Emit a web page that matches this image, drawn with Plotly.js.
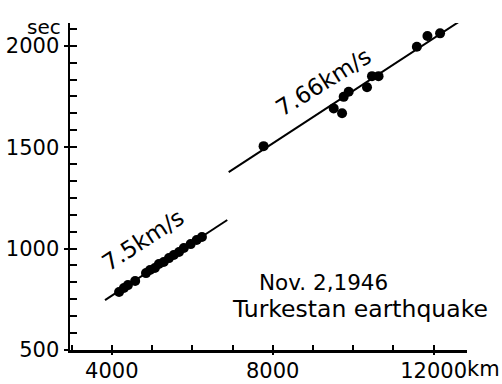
<!DOCTYPE html>
<html>
<head>
<meta charset="utf-8">
<script src="https://cdn.plot.ly/plotly-3.0.1.min.js"></script>
<style>html,body{margin:0;padding:0;background:#fff;}#chart{width:502px;height:384px;}</style>
</head>
<body>
<div id="chart"></div>
<script>
// Observed points, group 1 (7.5 km/s branch)
var distance1 = [4180, 4300, 4400, 4580, 4850, 4950, 5070, 5170, 5290, 5420, 5540, 5670, 5790, 5960, 6110, 6240];
var time1     = [786, 806, 820, 840, 879, 894, 904, 924, 934, 953, 968, 983, 1003, 1022, 1042, 1057];
// Observed points, group 2 (7.66 km/s branch)
var distance2 = [7773, 9516, 9724, 9764, 9888, 10344, 10468, 10631, 11583, 11846, 12161];
var time2     = [1505, 1691, 1667, 1748, 1773, 1795, 1850, 1850, 1995, 2048, 2061];
// Fitted travel-time lines
var fit1X = [3830, 6870];
var fit1Y = [746, 1141];
var fit2X = [6905, 12946];
var fit2Y = [1377, 2159];
// Tick values and labels
var xTickVals = [4000, 8000, 12000];
var xTickText = ['4000', '8000', '12000'];
var yTickVals = [500, 1000, 1500, 2000];
var yTickText = ['500', '1000', '1500', '2000'];
var labelSlow = '7.5km/s';
var labelFast = '7.66km/s';

var FONT = 'DejaVu Sans, Liberation Sans, sans-serif';
var xRange = [2960, 12830];
var yRange = [500, 2112];

// minor tick positions (inside ticks) with labels only at the major values
function buildTicks(start, step, end, majors, majorText) {
  var vals = [], text = [];
  for (var i = 0; start + i * step <= end + 1e-6; i++) {
    var v = start + i * step;
    vals.push(v);
    var k = -1;
    for (var j = 0; j < majors.length; j++) if (Math.abs(majors[j] - v) < 1e-3) k = j;
    text.push(k >= 0 ? majorText[k] : '');
  }
  return {vals: vals, text: text};
}
var xMinor = buildTicks(3000, 1000, 12000, xTickVals, xTickText);
var yMinor = buildTicks(500, 500 / 6, 2100, yTickVals, yTickText);

var traces = [
  {x: fit1X, y: fit1Y, mode: 'lines', line: {color: '#000', width: 2}, cliponaxis: false, hoverinfo: 'skip', xaxis: 'x2', yaxis: 'y2'},
  {x: fit2X, y: fit2Y, mode: 'lines', line: {color: '#000', width: 2}, cliponaxis: false, hoverinfo: 'skip', xaxis: 'x2', yaxis: 'y2'},
  {x: distance1, y: time1, mode: 'markers', marker: {color: '#000', size: 10}, cliponaxis: false},
  {x: distance2, y: time2, mode: 'markers', marker: {color: '#000', size: 10}, cliponaxis: false}
];

var layout = {
  width: 502, height: 384,
  margin: {l: 70, r: 35, t: 23, b: 34, pad: 0},
  paper_bgcolor: '#fff', plot_bgcolor: '#fff',
  showlegend: false,
  font: {family: FONT, size: 21, color: '#000'},
  xaxis: {
    range: xRange, showgrid: false, zeroline: false,
    showline: true, linecolor: '#000', linewidth: 2.5,
    tickmode: 'array', tickvals: xMinor.vals, ticktext: xMinor.text,
    ticks: 'inside', ticklen: 5, tickwidth: 2, tickcolor: '#000',
    tickfont: {family: FONT, size: 21, color: '#000'}
  },
  yaxis: {
    range: yRange, showgrid: false, zeroline: false,
    showline: true, linecolor: '#000', linewidth: 2.5,
    tickmode: 'array', tickvals: yMinor.vals, ticktext: yMinor.text,
    ticks: 'inside', ticklen: 7, tickwidth: 2, tickcolor: '#000',
    ticklabelstandoff: 4,
    tickfont: {family: FONT, size: 21, color: '#000'}
  },
  xaxis2: {
    overlaying: 'x', anchor: 'y2', side: 'bottom', range: xRange,
    showgrid: false, zeroline: false, showline: false, showticklabels: false,
    tickmode: 'array', tickvals: xTickVals,
    ticks: 'outside', ticklen: 4, tickwidth: 2, tickcolor: '#000'
  },
  yaxis2: {
    overlaying: 'y', anchor: 'x2', side: 'left', range: yRange,
    showgrid: false, zeroline: false, showline: false, showticklabels: false,
    tickmode: 'array', tickvals: yTickVals,
    ticks: 'outside', ticklen: 5, tickwidth: 2, tickcolor: '#000'
  },
  annotations: [
    {text: labelSlow, x: 4773, y: 1042, xref: 'x', yref: 'y', showarrow: false, textangle: -33,
     font: {family: FONT, size: 23, color: '#000'}},
    {text: labelFast, x: 9260, y: 1821, xref: 'x', yref: 'y', showarrow: false, textangle: -32,
     font: {family: FONT, size: 23, color: '#000'}},
    {text: 'Nov. 2,1946', x: 9260, y: 835, xref: 'x', yref: 'y', showarrow: false,
     font: {family: FONT, size: 21.5, color: '#000'}},
    {text: 'Turkestan earthquake', x: 10178, y: 702, xref: 'x', yref: 'y', showarrow: false,
     font: {family: FONT, size: 23.5, color: '#000'}},
    {text: 'sec', x: 0, y: 2092, xref: 'paper', yref: 'y', xanchor: 'right', xshift: -7, showarrow: false,
     font: {family: FONT, size: 20, color: '#000'}},
    {text: 'km', x: 12000, y: 0, xref: 'x', yref: 'paper', xanchor: 'left', yanchor: 'top', xshift: 31, yshift: -5, showarrow: false,
     font: {family: FONT, size: 21, color: '#000'}}
  ]
};

Plotly.newPlot('chart', traces, layout, {displayModeBar: false, staticPlot: true});
</script>
</body>
</html>
